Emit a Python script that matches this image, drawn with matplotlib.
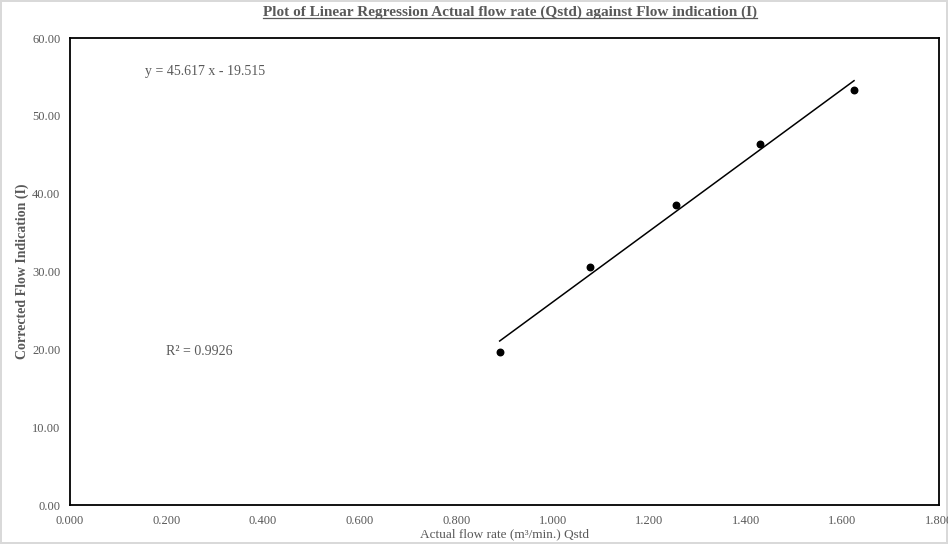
import numpy as np
import matplotlib
matplotlib.use("Agg")
import matplotlib.pyplot as plt
from matplotlib.ticker import MultipleLocator, FormatStrFormatter
from matplotlib.lines import Line2D

plt.rcParams['font.family'] = ['Liberation Serif', 'DejaVu Serif']

# measured points
qstd = [0.890, 1.077, 1.256, 1.430, 1.624]
flow_ind = [19.7, 30.6, 38.6, 46.4, 53.3]

eq_text = "y = 45.617 x - 19.515"
r2_text = "R² = 0.9926"

grey = '#595959'

fig = plt.figure(figsize=(9.48, 5.44), dpi=100)
fig.patch.set_edgecolor('#d9d9d9')
fig.patch.set_linewidth(1.5)
ax = fig.add_axes([70 / 948, 1 - 505 / 544, 869 / 948, 467 / 544])

ax.scatter(qstd, flow_ind, s=22, color='black', zorder=3)

# linear trendline over the data range
slope, icpt = np.polyfit(qstd, flow_ind, 1)
xs = np.array([min(qstd), max(qstd)])
ax.plot(xs, slope * xs + icpt, color='black', lw=1.1)

ax.text(0.155, 55.65, eq_text, color=grey, fontsize=10, va='center')
ax.text(0.199, 19.7, r2_text, color=grey, fontsize=10, va='center')

ax.set_xlim(0, 1.8)
ax.set_ylim(0, 60)
ax.xaxis.set_major_locator(MultipleLocator(0.2))
ax.yaxis.set_major_locator(MultipleLocator(10))
ax.xaxis.set_major_formatter(FormatStrFormatter('%.3f'))
ax.yaxis.set_major_formatter(FormatStrFormatter('%.2f'))
ax.tick_params(length=0, labelsize=9, labelcolor=grey, pad=7)
for s in ax.spines.values():
    s.set_linewidth(1.3)
    s.set_color('black')

ax.set_xlabel("Actual flow rate (m³/min.) Qstd", fontsize=9.5, color=grey, labelpad=1)
ax.set_ylabel("Corrected Flow Indication (I)", fontsize=10, color=grey,
              fontweight='bold', labelpad=2)

title = fig.text(510 / 948, 1 - 12 / 544, "Plot of Linear Regression Actual flow rate (Qstd) against Flow indication (I)",
                 ha='center', va='center', fontsize=11, fontweight='bold', color=grey)

# underline the title
fig.canvas.draw()
bb = title.get_window_extent().transformed(fig.transFigure.inverted())
fig.add_artist(Line2D([bb.x0, bb.x1], [bb.y0 + 0.002, bb.y0 + 0.002],
                      transform=fig.transFigure, color=grey, lw=0.9))

fig.savefig("out.png", dpi=100)
